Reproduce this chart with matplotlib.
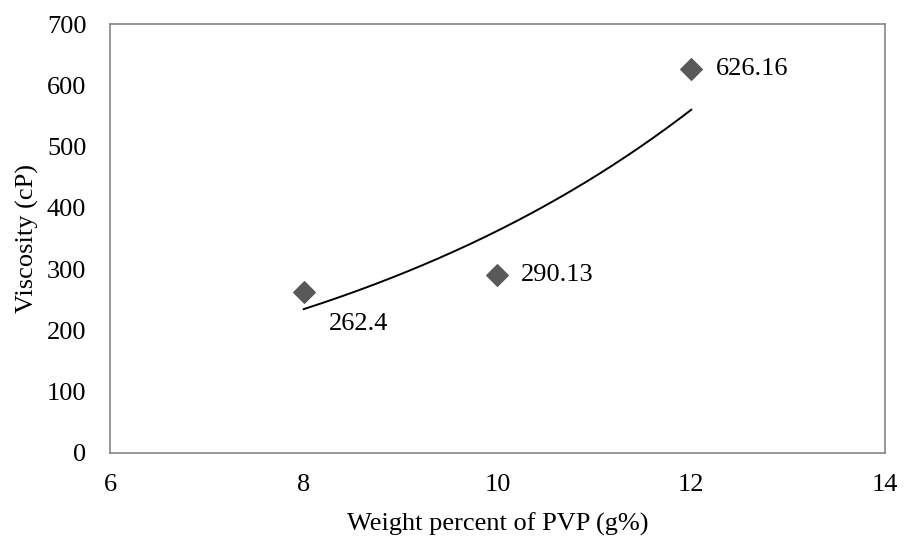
import matplotlib.pyplot as plt
import numpy as np

pvp_wt = [8, 10, 12]
viscosity = [262.4, 290.13, 626.16]
point_labels = ['262.4', '290.13', '626.16']
x_ticks = [6, 8, 10, 12, 14]
y_ticks = [0, 100, 200, 300, 400, 500, 600, 700]

plt.rcParams['font.family'] = ['Liberation Serif', 'DejaVu Serif']

fig = plt.figure(figsize=(9.08, 5.37), dpi=100)
ax = fig.add_axes([0.1211, 0.1565, 0.8536, 0.7988])

ax.scatter(pvp_wt, viscosity, marker='D', s=120, color='#595959', zorder=3)

# exponential trendline y = a*exp(b*x)
b, ln_a = np.polyfit(pvp_wt, np.log(viscosity), 1)
xs = np.linspace(min(pvp_wt), max(pvp_wt), 200)
ax.plot(xs, np.exp(ln_a) * np.exp(b * xs), color='black', lw=1.4, zorder=2)

offsets = [(18, -23), (17, 0), (18, 0)]
for x, y, lab, off in zip(pvp_wt, viscosity, point_labels, offsets):
    ax.annotate(lab, (x, y), xytext=off, textcoords='offset points',
                fontsize=19, va='center', ha='left')

ax.set_xlim(6, 14)
ax.set_ylim(0, 700)
ax.set_xticks(x_ticks)
ax.set_yticks(y_ticks)
ax.tick_params(labelsize=19, length=0)
ax.tick_params(axis='y', pad=17)
ax.tick_params(axis='x', pad=15)
for s in ax.spines.values():
    s.set_color('#868686')
    s.set_linewidth(1.2)

ax.set_xlabel('Weight percent of PVP (g%)', fontsize=19, labelpad=12)
ax.set_ylabel('Viscosity (cP)', fontsize=19, labelpad=6)

fig.savefig('out.png', dpi=100)
